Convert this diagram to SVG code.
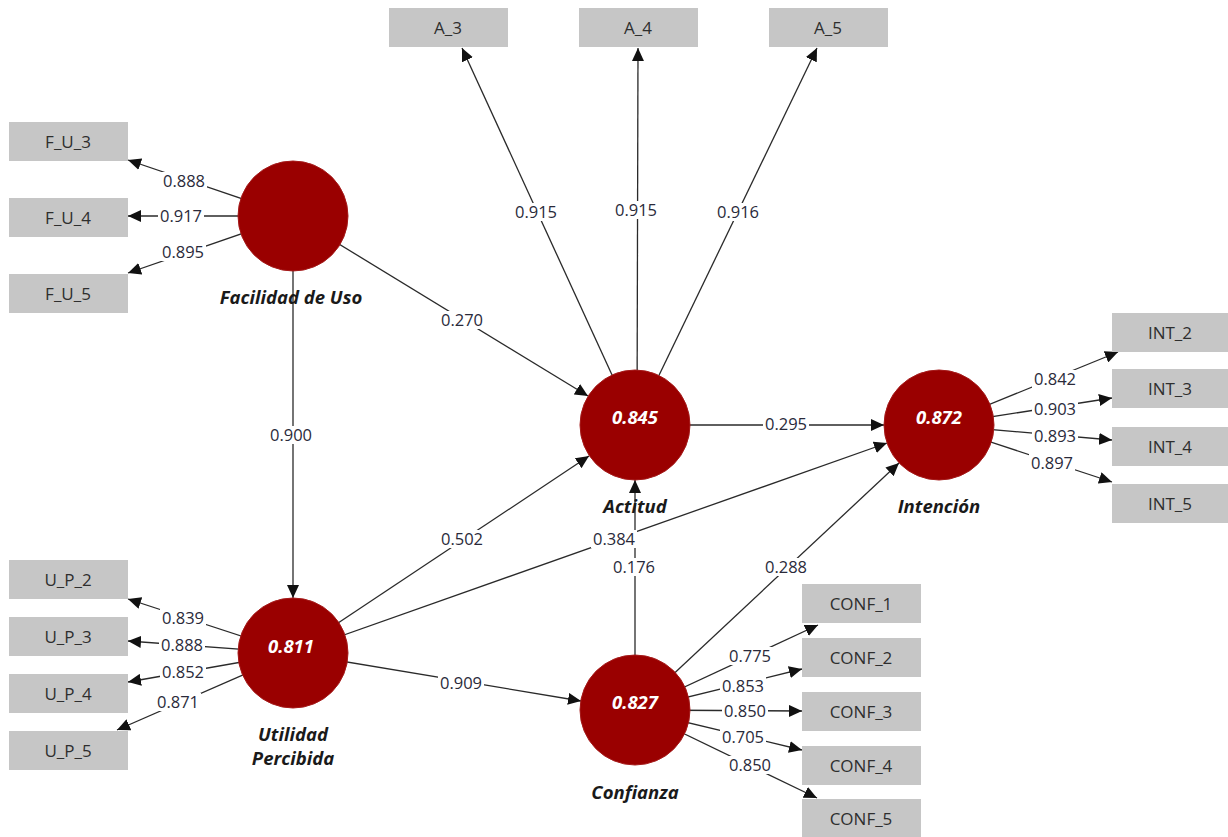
<svg xmlns="http://www.w3.org/2000/svg" width="1228" height="837" viewBox="0 0 1228 837">
<style>
.bg{fill:#ffffff}
.box{fill:#c6c6c6}
.bt{font-family:"Open Sans","Noto Sans",sans-serif;font-size:17px;fill:#2e2e2e;text-anchor:middle}
.c{fill:#9a0000;stroke:#a51a1a;stroke-width:1}
.cv{font-family:"Open Sans","Noto Sans",sans-serif;font-size:18.5px;font-weight:bold;font-style:italic;fill:#fff;text-anchor:middle}
.cn{font-family:"Open Sans","Noto Sans",sans-serif;font-size:18.5px;font-weight:bold;font-style:italic;fill:#1a1a1a;text-anchor:middle}
.ln{stroke:#2a2a2a;stroke-width:1.3;fill:none;marker-end:url(#ah)}
.lb{fill:#fff}
.lt{font-family:"Open Sans","Noto Sans",sans-serif;font-size:16.5px;fill:#2a2a3a;text-anchor:middle}
</style>
<defs>
<marker id="ah" markerUnits="userSpaceOnUse" markerWidth="14" markerHeight="12" refX="13" refY="6" orient="auto">
<path d="M0,0 L13,6 L0,12 Z" fill="#111"/>
</marker>
</defs>
<rect class="bg" width="1228" height="837"/>
<g id="connectors">
<line class="ln" x1="293" y1="216" x2="128" y2="160"/>
<line class="ln" x1="293" y1="216" x2="128" y2="216"/>
<line class="ln" x1="293" y1="216" x2="128" y2="273"/>
<line class="ln" x1="635" y1="425" x2="462" y2="48"/>
<line class="ln" x1="637" y1="425" x2="638" y2="48"/>
<line class="ln" x1="635" y1="425" x2="817" y2="48"/>
<line class="ln" x1="293" y1="216" x2="588" y2="396"/>
<line class="ln" x1="293" y1="216" x2="293" y2="598"/>
<line class="ln" x1="293" y1="653" x2="589" y2="456"/>
<line class="ln" x1="293" y1="653" x2="887" y2="443"/>
<line class="ln" x1="635" y1="425" x2="884" y2="425"/>
<line class="ln" x1="293" y1="653" x2="581" y2="701"/>
<line class="ln" x1="635" y1="710" x2="635" y2="480"/>
<line class="ln" x1="635" y1="710" x2="899" y2="463"/>
<line class="ln" x1="939" y1="425" x2="1118" y2="352"/>
<line class="ln" x1="939" y1="425" x2="1112" y2="398"/>
<line class="ln" x1="939" y1="425" x2="1112" y2="440"/>
<line class="ln" x1="939" y1="425" x2="1112" y2="482"/>
<line class="ln" x1="635" y1="710" x2="818" y2="625"/>
<line class="ln" x1="635" y1="710" x2="802" y2="669"/>
<line class="ln" x1="635" y1="710" x2="802" y2="711"/>
<line class="ln" x1="635" y1="710" x2="802" y2="750"/>
<line class="ln" x1="635" y1="710" x2="817" y2="798"/>
<line class="ln" x1="293" y1="653" x2="128" y2="599"/>
<line class="ln" x1="293" y1="653" x2="128" y2="641"/>
<line class="ln" x1="293" y1="653" x2="128" y2="682"/>
<line class="ln" x1="293" y1="653" x2="117" y2="730"/>
<g id="labels">
<rect class="lb" x="161" y="172" width="46" height="18"/><text class="lt" x="184" y="187">0.888</text>
<rect class="lb" x="158" y="207" width="46" height="18"/><text class="lt" x="181" y="222">0.917</text>
<rect class="lb" x="160" y="243" width="46" height="18"/><text class="lt" x="183" y="258">0.895</text>
<rect class="lb" x="513" y="203" width="46" height="18"/><text class="lt" x="536" y="218">0.915</text>
<rect class="lb" x="613" y="201" width="46" height="18"/><text class="lt" x="636" y="216">0.915</text>
<rect class="lb" x="715" y="203" width="46" height="18"/><text class="lt" x="738" y="218">0.916</text>
<rect class="lb" x="439" y="311" width="46" height="18"/><text class="lt" x="462" y="326">0.270</text>
<rect class="lb" x="268" y="426" width="46" height="18"/><text class="lt" x="291" y="441">0.900</text>
<rect class="lb" x="439" y="530" width="46" height="18"/><text class="lt" x="462" y="545">0.502</text>
<rect class="lb" x="591" y="530" width="46" height="18"/><text class="lt" x="614" y="545">0.384</text>
<rect class="lb" x="763" y="415" width="46" height="18"/><text class="lt" x="786" y="430">0.295</text>
<rect class="lb" x="438" y="674" width="46" height="18"/><text class="lt" x="461" y="689">0.909</text>
<rect class="lb" x="611" y="558" width="46" height="18"/><text class="lt" x="634" y="573">0.176</text>
<rect class="lb" x="763" y="558" width="46" height="18"/><text class="lt" x="786" y="573">0.288</text>
<rect class="lb" x="1032" y="370" width="46" height="18"/><text class="lt" x="1055" y="385">0.842</text>
<rect class="lb" x="1032" y="400" width="46" height="18"/><text class="lt" x="1055" y="415">0.903</text>
<rect class="lb" x="1032" y="427" width="46" height="18"/><text class="lt" x="1055" y="442">0.893</text>
<rect class="lb" x="1029" y="454" width="46" height="18"/><text class="lt" x="1052" y="469">0.897</text>
<rect class="lb" x="727" y="647" width="46" height="18"/><text class="lt" x="750" y="662">0.775</text>
<rect class="lb" x="720" y="677" width="46" height="18"/><text class="lt" x="743" y="692">0.853</text>
<rect class="lb" x="722" y="702" width="46" height="18"/><text class="lt" x="745" y="717">0.850</text>
<rect class="lb" x="720" y="728" width="46" height="18"/><text class="lt" x="743" y="743">0.705</text>
<rect class="lb" x="727" y="756" width="46" height="18"/><text class="lt" x="750" y="771">0.850</text>
<rect class="lb" x="160" y="609" width="46" height="18"/><text class="lt" x="183" y="624">0.839</text>
<rect class="lb" x="159" y="636" width="46" height="18"/><text class="lt" x="182" y="651">0.888</text>
<rect class="lb" x="160" y="663" width="46" height="18"/><text class="lt" x="183" y="678">0.852</text>
<rect class="lb" x="155" y="693" width="46" height="18"/><text class="lt" x="178" y="708">0.871</text>
</g>
</g>
<g id="F_U_3"><rect class="box" x="9" y="122" width="119" height="39"/><text class="bt" x="68" y="148">F_U_3</text></g>
<g id="F_U_4"><rect class="box" x="9" y="198" width="119" height="39"/><text class="bt" x="68" y="224">F_U_4</text></g>
<g id="F_U_5"><rect class="box" x="9" y="274" width="119" height="39"/><text class="bt" x="68" y="300">F_U_5</text></g>
<g id="A_3"><rect class="box" x="389" y="8" width="119" height="39"/><text class="bt" x="448" y="34">A_3</text></g>
<g id="A_4"><rect class="box" x="579" y="8" width="119" height="39"/><text class="bt" x="638" y="34">A_4</text></g>
<g id="A_5"><rect class="box" x="769" y="8" width="119" height="39"/><text class="bt" x="828" y="34">A_5</text></g>
<g id="U_P_2"><rect class="box" x="9" y="560" width="119" height="39"/><text class="bt" x="68" y="586">U_P_2</text></g>
<g id="U_P_3"><rect class="box" x="9" y="617" width="119" height="39"/><text class="bt" x="68" y="643">U_P_3</text></g>
<g id="U_P_4"><rect class="box" x="9" y="674" width="119" height="39"/><text class="bt" x="68" y="700">U_P_4</text></g>
<g id="U_P_5"><rect class="box" x="9" y="731" width="119" height="39"/><text class="bt" x="68" y="757">U_P_5</text></g>
<g id="CONF_1"><rect class="box" x="802" y="584" width="119" height="39"/><text class="bt" x="861" y="610">CONF_1</text></g>
<g id="CONF_2"><rect class="box" x="802" y="638" width="119" height="39"/><text class="bt" x="861" y="664">CONF_2</text></g>
<g id="CONF_3"><rect class="box" x="802" y="692" width="119" height="39"/><text class="bt" x="861" y="718">CONF_3</text></g>
<g id="CONF_4"><rect class="box" x="802" y="746" width="119" height="39"/><text class="bt" x="861" y="772">CONF_4</text></g>
<g id="CONF_5"><rect class="box" x="802" y="799" width="119" height="39"/><text class="bt" x="861" y="825">CONF_5</text></g>
<g id="INT_2"><rect class="box" x="1112" y="313" width="116" height="39"/><text class="bt" x="1170" y="339">INT_2</text></g>
<g id="INT_3"><rect class="box" x="1112" y="369" width="116" height="39"/><text class="bt" x="1170" y="395">INT_3</text></g>
<g id="INT_4"><rect class="box" x="1112" y="427" width="116" height="39"/><text class="bt" x="1170" y="453">INT_4</text></g>
<g id="INT_5"><rect class="box" x="1112" y="484" width="116" height="39"/><text class="bt" x="1170" y="510">INT_5</text></g>
<g id="FacilidadDeUso"><circle class="c" cx="293" cy="216" r="55"/><text class="cn" x="291" y="304">Facilidad de Uso</text></g>
<g id="UtilidadPercibida"><circle class="c" cx="293" cy="653" r="55"/><text class="cv" x="291" y="653">0.811</text><text class="cn" x="293" y="741">Utilidad</text><text class="cn" x="293" y="765">Percibida</text></g>
<g id="Actitud"><circle class="c" cx="635" cy="425" r="55"/><text class="cv" x="635" y="424">0.845</text><text class="cn" x="635" y="513">Actitud</text></g>
<g id="Intencion"><circle class="c" cx="939" cy="425" r="55"/><text class="cv" x="939" y="424">0.872</text><text class="cn" x="939" y="513">Intención</text></g>
<g id="Confianza"><circle class="c" cx="635" cy="710" r="55"/><text class="cv" x="635" y="709">0.827</text><text class="cn" x="635" y="799">Confianza</text></g>
</svg>
